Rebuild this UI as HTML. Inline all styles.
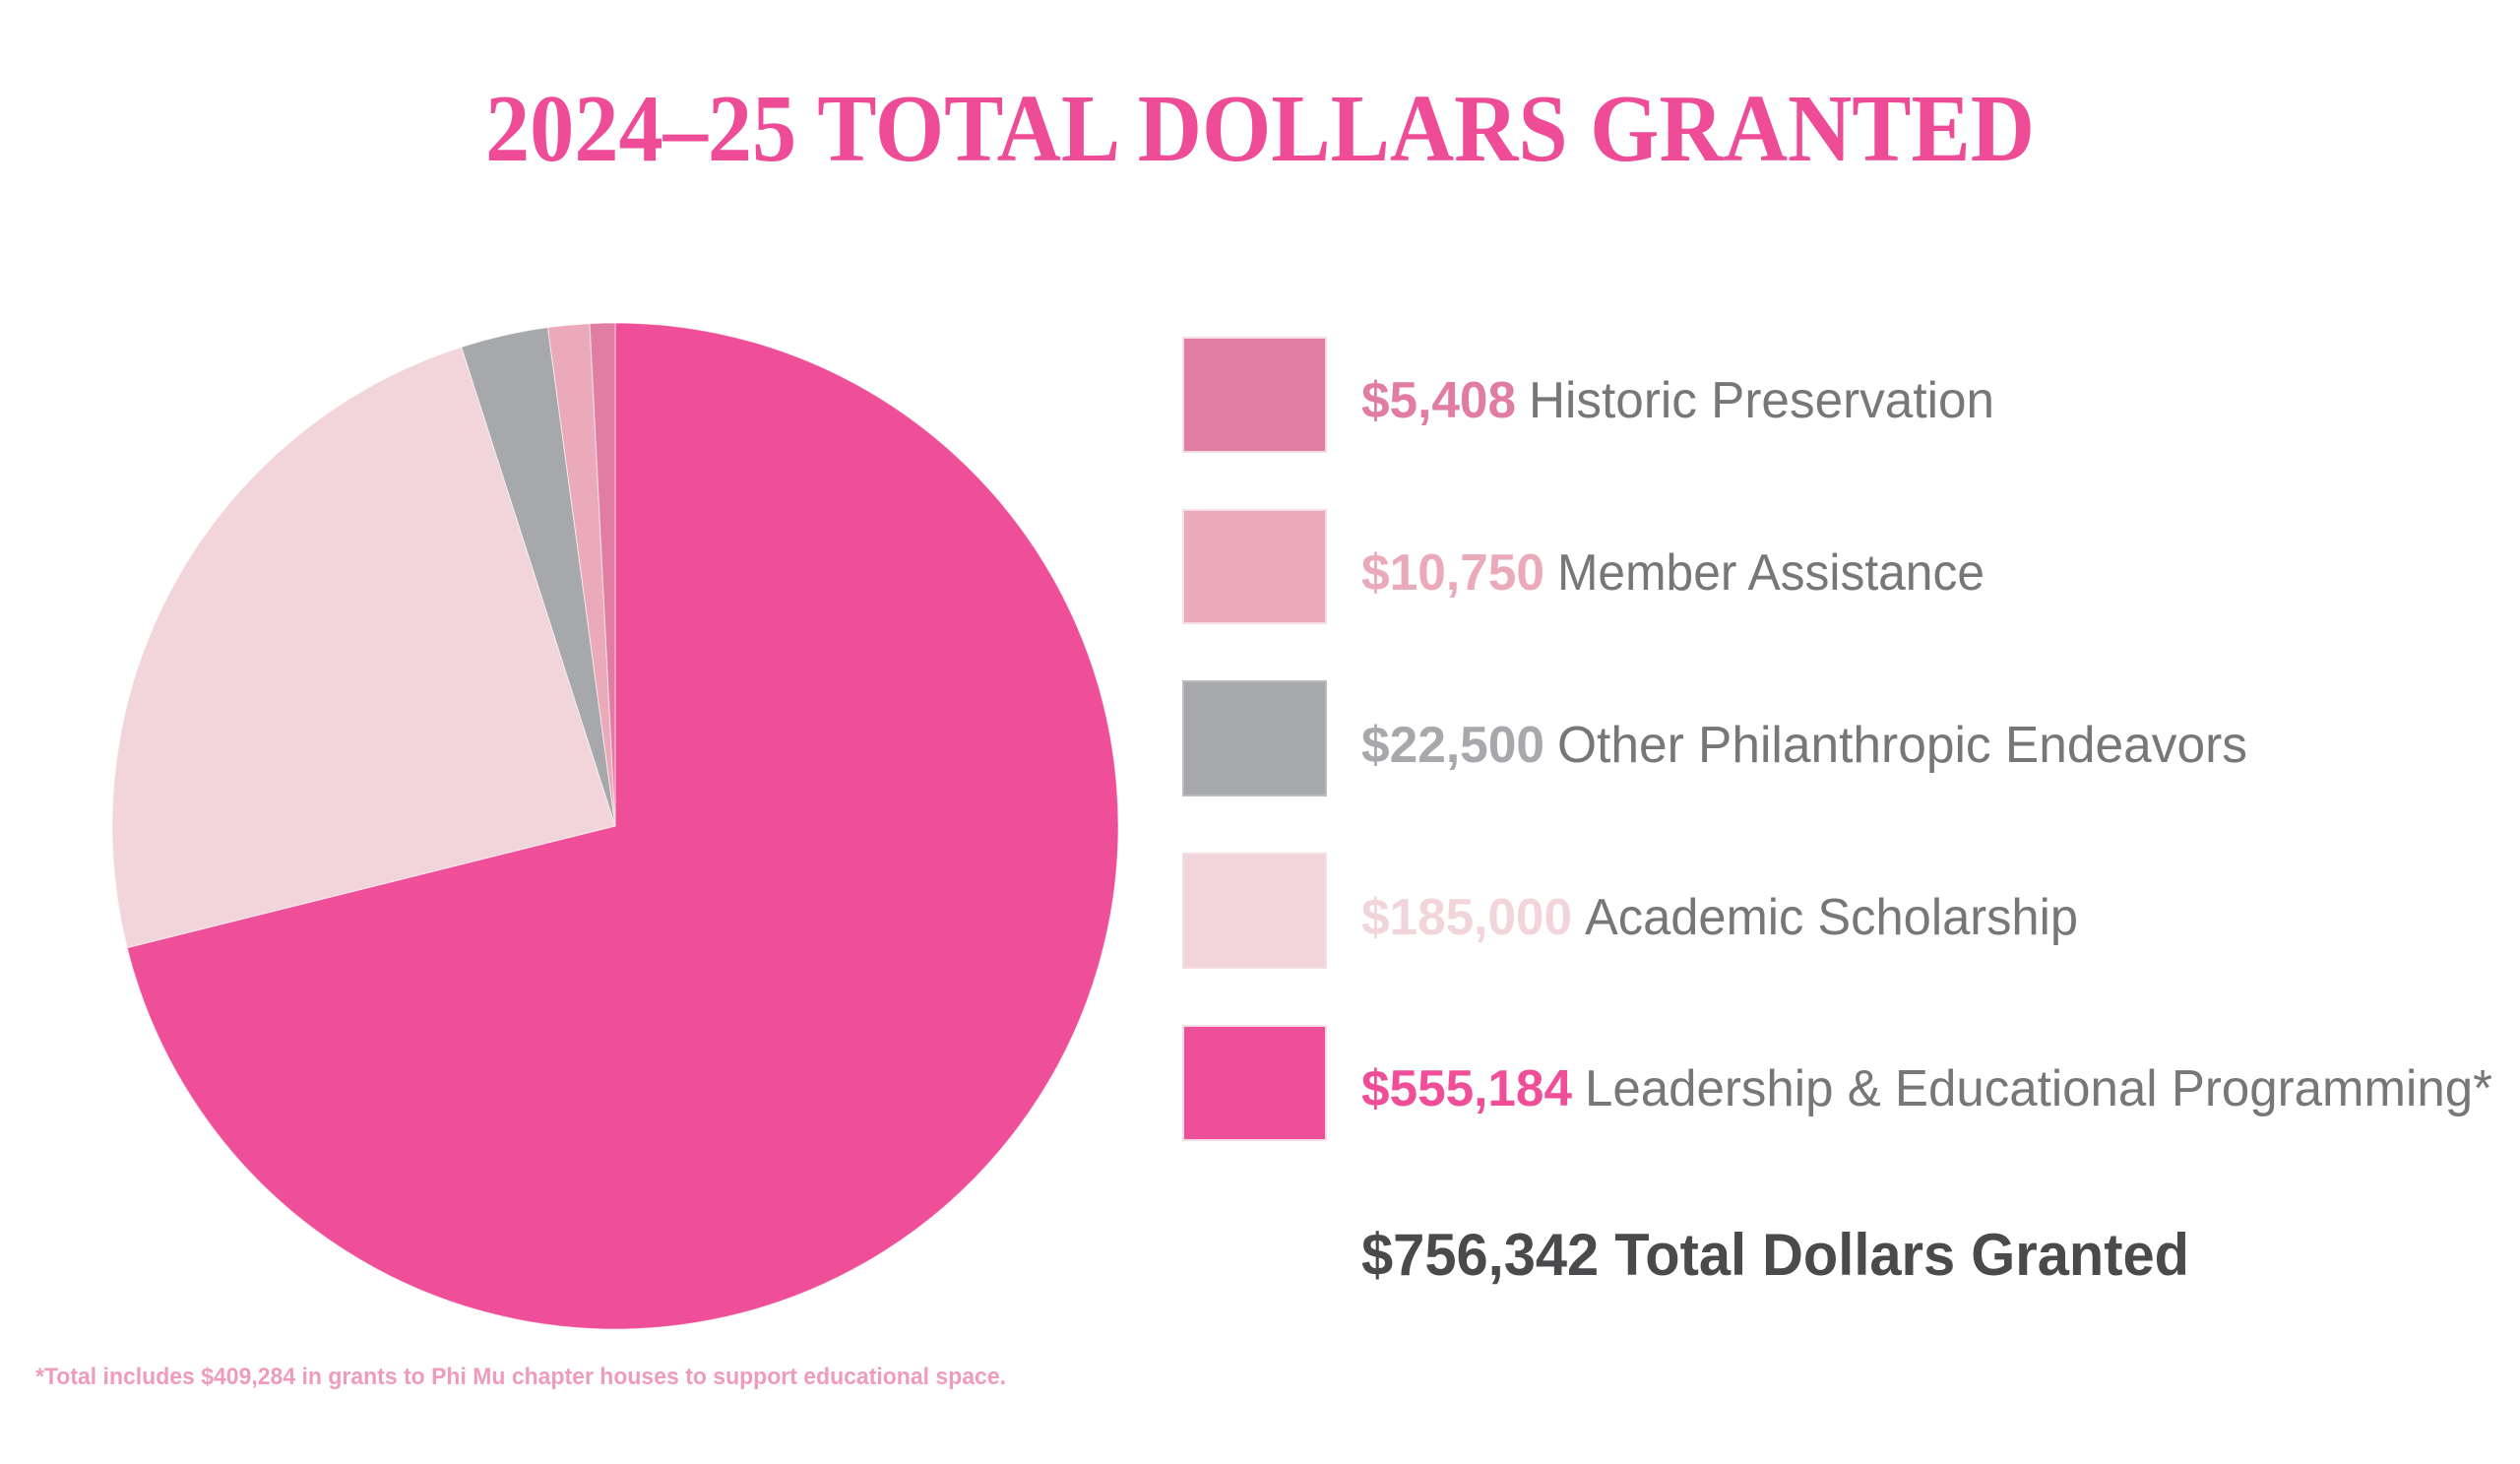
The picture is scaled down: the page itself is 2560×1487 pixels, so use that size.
<!DOCTYPE html>
<html><head><meta charset="utf-8"><style>html,body{margin:0;padding:0;background:#fff}svg{display:block}</style></head>
<body>
<svg width="2560" height="1487" viewBox="0 0 2560 1487" xmlns="http://www.w3.org/2000/svg">
<rect width="2560" height="1487" fill="#fff"/>
<text x="1280" y="163" text-anchor="middle" font-family="Liberation Serif, serif" font-weight="bold" font-size="98" fill="#ee4c97" textLength="1574" lengthAdjust="spacingAndGlyphs">2024–25 TOTAL DOLLARS GRANTED</text>
<g stroke="#fff" stroke-width="1" stroke-opacity="0.6">
<path d="M625 839 L625 328 A511 511 0 1 1 129.2 962.6 Z" fill="#ef4f98"/>
<path d="M625 839 L129.2 962.6 A511 511 0 0 1 468.8 352.5 Z" fill="#f2d5db"/>
<path d="M625 839 L468.8 352.5 A511 511 0 0 1 556.5 332.6 Z" fill="#a7a8ab"/>
<path d="M625 839 L556.5 332.6 A511 511 0 0 1 599.1 328.7 Z" fill="#ebaab9"/>
<path d="M625 839 L599.1 328.7 A511 511 0 0 1 625 328 Z" fill="#e17ca3"/>
</g>
<g stroke="#f5dde5" stroke-width="2">
<rect x="1202" y="343" width="145" height="116" fill="#e17ca3"/>
<rect x="1202" y="518" width="145" height="115" fill="#ebaab9"/>
<rect x="1202" y="692" width="145" height="116" fill="#a7a8ab" stroke="#bbbbbe"/>
<rect x="1202" y="867" width="145" height="116" fill="#f2d5db"/>
<rect x="1202" y="1042" width="145" height="116" fill="#ef4f98"/>
</g>
<g font-family="Liberation Sans, sans-serif" font-size="52">
<text x="1383" y="424" font-weight="bold" fill="#e17ca3" textLength="157" lengthAdjust="spacingAndGlyphs">$5,408</text>
<text x="1553" y="424" fill="#77777a" textLength="473" lengthAdjust="spacingAndGlyphs">Historic Preservation</text>
<text x="1383" y="599" font-weight="bold" fill="#ebaab9" textLength="186" lengthAdjust="spacingAndGlyphs">$10,750</text>
<text x="1582" y="599" fill="#77777a" textLength="434" lengthAdjust="spacingAndGlyphs">Member Assistance</text>
<text x="1383" y="774" font-weight="bold" fill="#a7a8ab" textLength="186" lengthAdjust="spacingAndGlyphs">$22,500</text>
<text x="1582" y="774" fill="#77777a" textLength="701" lengthAdjust="spacingAndGlyphs">Other Philanthropic Endeavors</text>
<text x="1383" y="949" font-weight="bold" fill="#f2d5db" textLength="214" lengthAdjust="spacingAndGlyphs">$185,000</text>
<text x="1610" y="949" fill="#77777a" textLength="501" lengthAdjust="spacingAndGlyphs">Academic Scholarship</text>
<text x="1383" y="1123" font-weight="bold" fill="#ef4f98" textLength="214" lengthAdjust="spacingAndGlyphs">$555,184</text>
<text x="1610" y="1123" fill="#77777a" textLength="922" lengthAdjust="spacingAndGlyphs">Leadership &amp; Educational Programming*</text>
<text x="1383" y="1295" font-weight="bold" font-size="60" fill="#4a4a4d" textLength="841" lengthAdjust="spacingAndGlyphs">$756,342 Total Dollars Granted</text>
<text x="36" y="1406" font-size="24" font-weight="bold" fill="#ee9cbd" textLength="986" lengthAdjust="spacingAndGlyphs">*Total includes $409,284 in grants to Phi Mu chapter houses to support educational space.</text>
</g>
</svg>
</body></html>
